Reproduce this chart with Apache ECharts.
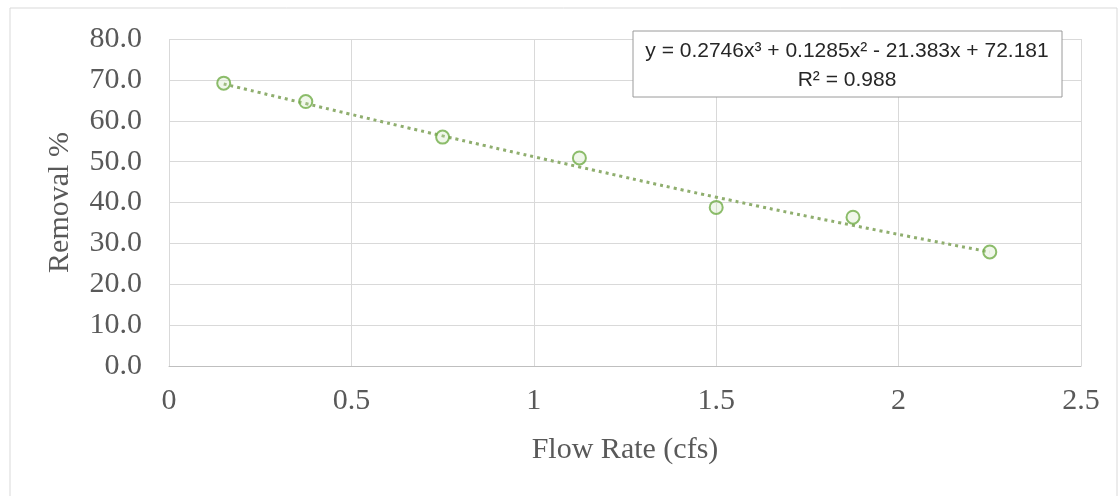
<!DOCTYPE html>
<html>
<head>
<meta charset="utf-8">
<script src="https://cdn.jsdelivr.net/npm/echarts@6/dist/echarts.min.js"></script>
<style>
  html, body { margin: 0; padding: 0; background: #fff; }
  #chart { width: 1119px; height: 496px; }
</style>
</head>
<body>
<div id="chart"></div>
<script>
// measured points
const flowRate = [0.15, 0.375, 0.75, 1.125, 1.5, 1.875, 2.25];
const removal = [69.2, 64.7, 56.0, 50.9, 38.8, 36.4, 27.9];

// trendline
const trendX = [0.15, 0.375, 0.75, 1.125, 1.5, 1.875, 2.25];
const trendY = [69.0, 64.2, 56.3, 48.7, 41.3, 34.4, 27.9];

const equationText = 'y = 0.2746x³ + 0.1285x² - 21.383x + 72.181\nR² = 0.988';

const axisFont = 'Liberation Serif';
const axisColor = '#595959';

const chart = echarts.init(document.getElementById('chart'));

const option = {
  animation: false,
  grid: { left: 169, right: 38, top: 39, bottom: 130 },
  xAxis: {
    type: 'value',
    min: 0, max: 2.5, interval: 0.5,
    name: 'Flow Rate (cfs)',
    nameLocation: 'middle',
    nameGap: 69,
    nameTextStyle: { fontFamily: axisFont, fontSize: 30, color: axisColor },
    axisLine: { show: true, lineStyle: { color: '#bfbfbf' } },
    axisTick: { show: false },
    axisLabel: { fontFamily: axisFont, fontSize: 30, color: axisColor, margin: 20 },
    splitLine: { show: true, lineStyle: { color: '#d9d9d9' } }
  },
  yAxis: {
    type: 'value',
    min: 0, max: 80, interval: 10,
    name: 'Removal %',
    nameLocation: 'middle',
    nameGap: 94,
    nameTextStyle: { fontFamily: axisFont, fontSize: 30, color: axisColor },
    axisLine: { show: false },
    axisTick: { show: false },
    axisLabel: {
      fontFamily: axisFont, fontSize: 30, color: axisColor, margin: 27,
      formatter: v => v.toFixed(1)
    },
    splitLine: { show: true, lineStyle: { color: '#d9d9d9' } }
  },
  graphic: [
    {
      type: 'rect', silent: true, z: 0,
      shape: { x: 10, y: 8, width: 1107, height: 500 },
      style: { fill: 'none', stroke: '#d9d9d9', lineWidth: 1 }
    },
    {
      type: 'rect', z: 100,
      shape: { x: 633, y: 31, width: 429, height: 66 },
      style: { fill: '#fff', stroke: '#9a9a9a', lineWidth: 1 }
    },
    {
      type: 'text', z: 101,
      x: 847, y: 66,
      style: {
        text: equationText,
        font: '21px "Liberation Sans"',
        fill: '#262626',
        align: 'center',
        verticalAlign: 'middle',
        lineHeight: 29
      }
    }
  ],
  series: [
    {
      name: 'trend',
      type: 'line',
      data: trendX.map((x, i) => [x, trendY[i]]),
      smooth: true,
      showSymbol: false,
      lineStyle: { color: '#8fae6e', width: 3, type: [3, 4] },
      z: 2
    },
    {
      name: 'Removal',
      type: 'scatter',
      data: flowRate.map((x, i) => [x, removal[i]]),
      symbol: 'circle',
      symbolSize: 13,
      itemStyle: { color: 'rgba(200,225,180,0.35)', borderColor: '#70ad47', borderWidth: 2 },
      z: 3
    }
  ]
};

chart.setOption(option);
</script>
</body>
</html>
